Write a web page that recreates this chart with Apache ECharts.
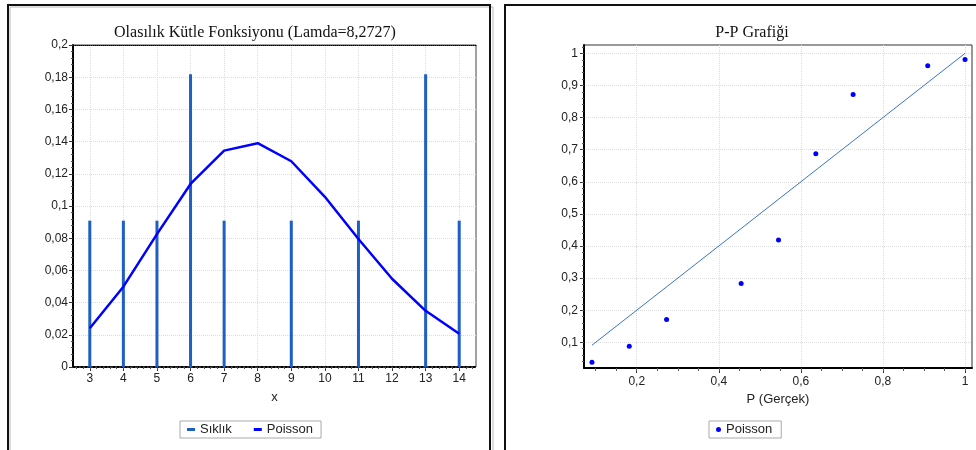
<!DOCTYPE html>
<html lang="tr">
<head>
<meta charset="UTF-8">
<title>Olasılık Kütle Fonksiyonu / P-P Grafiği</title>
<script src="https://cdn.jsdelivr.net/npm/echarts@6.0.0/dist/echarts.min.js"></script>
<style>
    html, body { margin: 0; padding: 0; background: #fff; }
    #chart { width: 976px; height: 450px; }
</style>
</head>
<body>
<div id="chart"></div>
<script>
    // sol grafik: frekans ve Poisson olasılıkları
    var xDegerler = [3, 4, 5, 6, 7, 8, 9, 10, 11, 12, 13, 14];
    var poissonOlasilik = [0.0241, 0.0499, 0.0825, 0.1137, 0.1344, 0.1390, 0.1278, 0.1057, 0.0795, 0.0548, 0.0349, 0.0206];
    var siklikX = [3, 4, 5, 6, 7, 9, 11, 13, 14];
    var siklikDeger = [0.0909, 0.0909, 0.0909, 0.1818, 0.0909, 0.0909, 0.0909, 0.1818, 0.0909];

    // sağ grafik: P-P
    var ppGercek = [0.0909, 0.1818, 0.2727, 0.4545, 0.5455, 0.6364, 0.7273, 0.9091, 1.0];
    var ppPoisson = [0.038, 0.088, 0.171, 0.283, 0.419, 0.687, 0.872, 0.961, 0.981];
    var ppReferans = [0.0909, 1.0];
    var sagXTicks = [0.2, 0.4, 0.6, 0.8, 1];
    var sagYTicks = [0.1, 0.2, 0.3, 0.4, 0.5, 0.6, 0.7, 0.8, 0.9, 1];

    function virgul(v) {
        return String(Number(v.toFixed(2))).replace('.', ',');
    }

    // ara tikler
    var solXMinor = [];
    for (var i = 26; i <= 144; i += 2) solXMinor.push(i / 10);
    var sagXMinor = [];
    for (var j = 2; j <= 20; j++) sagXMinor.push(j * 0.05);
    var sagYMinor = [];
    for (var k = 2; k <= 51; k++) sagYMinor.push(k * 0.02);

    var SANS = 'Liberation Sans, Arial, sans-serif';
    var SERIF = 'Liberation Serif, Times New Roman, serif';
    var splitStil = {show: true, lineStyle: {color: '#dcdcdc', type: 'dotted', width: 1}};
    var etiket = {color: '#222', fontSize: 12, fontFamily: SANS};

    var chart = echarts.init(document.getElementById('chart'));

    chart.setOption({
        animation: false,
        backgroundColor: '#fff',
        graphic: [
            {type: 'rect', shape: {x: 10, y: 7, width: 483, height: 470}, style: {fill: null, stroke: '#bbb', lineWidth: 1}},
            {type: 'rect', shape: {x: 8, y: 5, width: 482, height: 470}, style: {fill: null, stroke: '#111', lineWidth: 2}},
            {type: 'rect', shape: {x: 505, y: 5, width: 480, height: 470}, style: {fill: null, stroke: '#111', lineWidth: 2}}
        ],
        title: [
            {text: 'Olasılık Kütle Fonksiyonu (Lamda=8,2727)', left: 250, top: 20, textAlign: 'center',
                textStyle: {fontFamily: SERIF, fontSize: 16, fontWeight: 'normal', color: '#111'}},
            {text: 'P-P Grafiği', left: 747, top: 20, textAlign: 'center',
                textStyle: {fontFamily: SERIF, fontSize: 16, fontWeight: 'normal', color: '#111'}}
        ],
        legend: [
            {
                left: 180, top: 421, padding: [2, 8, 2, 7], itemGap: 22, itemWidth: 8, itemHeight: 3,
                borderColor: '#aaa', borderWidth: 1, selectedMode: false,
                textStyle: {fontFamily: SANS, fontSize: 13, color: '#222'},
                data: [{name: 'Sıklık', icon: 'rect'}, {name: 'Poisson', icon: 'rect'}]
            },
            {
                left: 709, top: 421, padding: [2, 9, 2, 7], itemWidth: 5, itemHeight: 5,
                borderColor: '#aaa', borderWidth: 1, selectedMode: false,
                textStyle: {fontFamily: SANS, fontSize: 13, color: '#222'},
                data: [{name: 'Poisson', icon: 'circle'}]
            }
        ],
        grid: [
            {left: 73, top: 45, width: 403, height: 322, show: true, borderColor: '#444', borderWidth: 1},
            {left: 584, top: 45, width: 388, height: 323, show: true, borderColor: '#333', borderWidth: 1}
        ],
        xAxis: [
            {
                gridIndex: 0, type: 'value', min: 2.5, max: 14.5, position: 'bottom',
                name: 'x', nameLocation: 'middle', nameGap: 24,
                nameTextStyle: {fontFamily: SANS, fontSize: 13, color: '#222'},
                axisLine: {lineStyle: {color: '#000', width: 2, type: 'dotted'}},
                axisTick: {length: 4, customValues: xDegerler, lineStyle: {color: '#333'}},
                axisLabel: Object.assign({customValues: xDegerler, margin: 6}, etiket),
                splitLine: splitStil
            },
            {
                gridIndex: 0, type: 'value', min: 2.5, max: 14.5, position: 'bottom',
                axisLine: {show: false},
                axisTick: {length: 2, customValues: solXMinor, lineStyle: {color: '#555'}},
                axisLabel: {show: false}, splitLine: {show: false}
            },
            {
                gridIndex: 1, type: 'value', min: 0.0715, max: 1.017, position: 'bottom',
                name: 'P (Gerçek)', nameLocation: 'middle', nameGap: 24,
                nameTextStyle: {fontFamily: SANS, fontSize: 13, color: '#222'},
                axisLine: {lineStyle: {color: '#000', width: 2}},
                axisTick: {length: 5, customValues: sagXTicks, lineStyle: {color: '#333'}},
                axisLabel: Object.assign({customValues: sagXTicks, margin: 8, formatter: virgul}, etiket),
                splitLine: splitStil
            },
            {
                gridIndex: 1, type: 'value', min: 0.0715, max: 1.017, position: 'bottom',
                axisLine: {show: false},
                axisTick: {length: 3, customValues: sagXMinor, lineStyle: {color: '#555'}},
                axisLabel: {show: false}, splitLine: {show: false}
            },
            {
                // sol grafiğin üst kenarı (noktalı)
                gridIndex: 0, type: 'value', min: 2.5, max: 14.5, position: 'top',
                axisLine: {show: true, lineStyle: {color: '#000', width: 1, type: 'dotted'}},
                axisTick: {show: false}, axisLabel: {show: false}, splitLine: {show: false}
            }
        ],
        yAxis: [
            {
                gridIndex: 0, type: 'value', min: 0, max: 0.2, interval: 0.02, position: 'left',
                axisLine: {show: true, lineStyle: {color: '#000', width: 2}},
                axisTick: {show: true, length: 4, lineStyle: {color: '#333'}},
                minorTick: {show: true, splitNumber: 5, length: 2, lineStyle: {color: '#555'}},
                axisLabel: Object.assign({formatter: virgul, margin: 5}, etiket),
                splitLine: splitStil
            },
            {
                gridIndex: 1, type: 'value', min: 0.02, max: 1.026, position: 'left',
                axisLine: {show: true, lineStyle: {color: '#000', width: 2}},
                axisTick: {show: true, length: 4, customValues: sagYTicks, lineStyle: {color: '#333'}},
                axisLabel: Object.assign({customValues: sagYTicks, formatter: virgul, margin: 6}, etiket),
                splitLine: splitStil
            },
            {
                gridIndex: 1, type: 'value', min: 0.02, max: 1.026, position: 'left',
                axisLine: {show: false},
                axisTick: {show: true, length: 2, customValues: sagYMinor, lineStyle: {color: '#555'}},
                axisLabel: {show: false}, splitLine: {show: false}
            }
        ],
        series: [
            {
                name: 'Sıklık', type: 'bar', xAxisIndex: 0, yAxisIndex: 0, barWidth: 3,
                itemStyle: {color: '#1f5fc4'},
                data: siklikX.map(function (x, i) { return [x, siklikDeger[i]]; })
            },
            {
                name: 'Poisson', type: 'line', xAxisIndex: 0, yAxisIndex: 0, symbol: 'none',
                lineStyle: {color: '#0000ff', width: 2.5}, itemStyle: {color: '#0000ff'},
                data: xDegerler.map(function (x, i) { return [x, poissonOlasilik[i]]; })
            },
            {
                name: 'Referans', type: 'line', xAxisIndex: 2, yAxisIndex: 1, symbol: 'none',
                lineStyle: {color: '#3a74c8', width: 1},
                data: ppReferans.map(function (v) { return [v, v]; })
            },
            {
                name: 'Poisson', type: 'scatter', xAxisIndex: 2, yAxisIndex: 1, symbolSize: 5,
                itemStyle: {color: '#0000ff', opacity: 1},
                data: ppGercek.map(function (x, i) { return [x, ppPoisson[i]]; })
            }
        ]
    });
</script>
</body>
</html>
